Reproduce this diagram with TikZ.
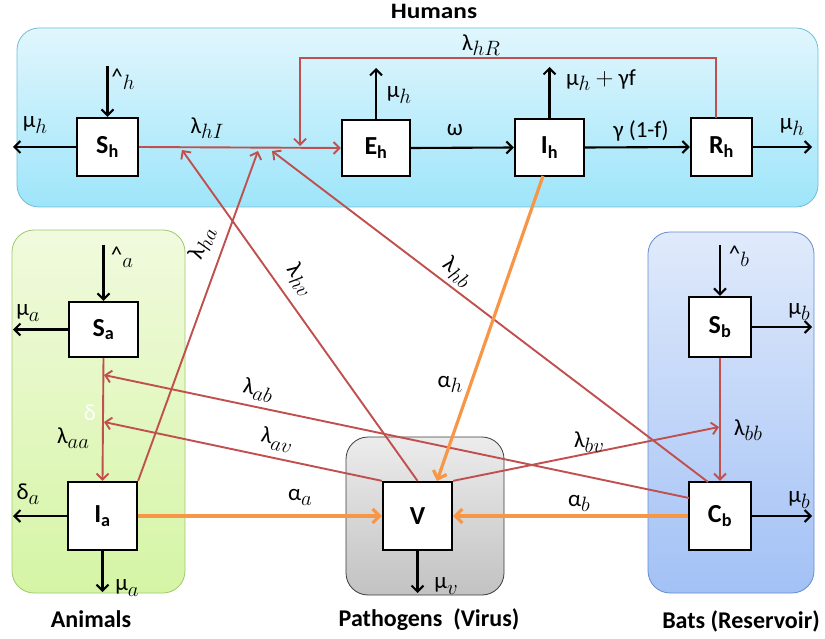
\documentclass[tikz,border=0pt]{standalone}
\usepackage{fontspec}
\setmainfont{Carlito}
\usetikzlibrary{arrows.meta}
\definecolor{redl}{HTML}{C0504D}
\definecolor{orl}{HTML}{F79646}
\definecolor{hTop}{RGB}{225,246,253}
\definecolor{hBot}{RGB}{158,229,250}
\definecolor{hBrd}{RGB}{110,190,215}
\definecolor{aTop}{RGB}{241,250,222}
\definecolor{aBot}{RGB}{213,245,165}
\definecolor{aBrd}{RGB}{160,200,110}
\definecolor{bTop}{RGB}{224,234,251}
\definecolor{bBot}{RGB}{162,193,245}
\definecolor{bBrd}{RGB}{100,140,210}
\definecolor{vTop}{RGB}{236,236,236}
\definecolor{vBot}{RGB}{194,194,194}
\definecolor{vBrd}{RGB}{60,60,60}
\newcommand\sbb[1]{\raisebox{-0.22em}{\fontsize{20}{20}\selectfont$#1$}}
\begin{document}
\begin{tikzpicture}[x=1pt,y=-1pt,
  comp/.style={draw=black, line width=2.3pt, fill=white, inner sep=0pt,
    font=\bfseries\fontsize{26}{26}\selectfont},
  blk/.style={draw=black, line width=2.1pt, -{Straight Barb[length=6pt,width=12pt,line width=2.1pt]}},
  rline/.style={draw=redl, line width=1.9pt},
  rarr/.style={rline, -{Straight Barb[length=6pt,width=12pt,line width=1.9pt]}},
  oarr/.style={draw=orl, line width=3.2pt, -{Straight Barb[length=7pt,width=14pt,line width=3.2pt]}},
  lbl/.style={font=\fontsize{23}{23}\selectfont, inner sep=0pt},
  ttl/.style={font=\bfseries\fontsize{24}{24}\selectfont, inner sep=0pt},
  panel/.style={line width=0.8pt, rounded corners=22pt}
]
\useasboundingbox (0,0) rectangle (825,639);

% panels
\shade[panel, top color=hTop, bottom color=hBot, draw=hBrd] (17,28) rectangle (818,207);
\shade[panel, top color=aTop, bottom color=aBot, draw=aBrd] (12,230) rectangle (185,593);
\shade[panel, top color=bTop, bottom color=bBot, draw=bBrd] (648,232) rectangle (814,593);
\shade[panel, top color=vTop, bottom color=vBot, draw=vBrd] (346,437) rectangle (504,595);

% compartments
\node[comp, minimum width=61pt, minimum height=58pt] (Sh) at (107.5,147) {S\textsubscript{h}};
\node[comp, minimum width=68pt, minimum height=56pt] (Eh) at (376,148) {E\textsubscript{h}};
\node[comp, minimum width=69pt, minimum height=57pt] (Ih) at (549.5,147.5) {I\textsubscript{h}};
\node[comp, minimum width=61pt, minimum height=58pt] (Rh) at (721.5,147) {R\textsubscript{h}};
\node[comp, minimum width=69pt, minimum height=55pt] (Sa) at (103.5,329.5) {S\textsubscript{a}};
\node[comp, minimum width=69pt, minimum height=68pt] (Ia) at (102.5,516) {I\textsubscript{a}};
\node[comp, minimum width=69pt, minimum height=68pt] (V) at (417.5,516) {V};
\node[comp, minimum width=62pt, minimum height=60pt] (Sb) at (720,327) {S\textsubscript{b}};
\node[comp, minimum width=62pt, minimum height=68pt] (Cb) at (720,516) {C\textsubscript{b}};

% free ends
\coordinate (shL) at (13,147);
\coordinate (lamH) at (107.5,66);
\coordinate (ehU) at (376,68);
\coordinate (ihU) at (549.5,67);
\coordinate (rhR) at (812,147);
\coordinate (rTop) at (716,118);
\coordinate (loopA) at (716,58);
\coordinate (loopB) at (300,58);
\coordinate (loopEnd) at (300,146);
\coordinate (hIn1) at (182,150);
\coordinate (hIn2) at (258,151);
\coordinate (hIn3) at (272,151);
\coordinate (ihB) at (543,176);
\coordinate (vTopA) at (437,481);
\coordinate (cbT) at (708,482);
\coordinate (cbL) at (689,498);
\coordinate (lamA) at (103.5,245);
\coordinate (saL) at (13,329.5);
\coordinate (iaL) at (13,516);
\coordinate (iaD) at (102.5,592);
\coordinate (aIn1) at (104,375);
\coordinate (aIn2) at (104,422);
\coordinate (vD) at (417.5,593);
\coordinate (lamB) at (720,245);
\coordinate (sbR) at (812,327);
\coordinate (cbR) at (812,516);
\coordinate (bIn) at (719,427);

% human flows
\draw[blk] (Sh.west) -- (shL);
\draw[blk] (lamH) -- (Sh.north);
\draw[rarr] (Sh.east) -- (Eh.west);
\draw[blk] (Eh.north) -- (ehU);
\draw[blk] (Eh.east) -- (Ih.west);
\draw[blk] (Ih.north) -- (ihU);
\draw[blk] (Ih.east) -- (Rh.west);
\draw[blk] (Rh.east) -- (rhR);
\draw[rarr] (rTop) -- (loopA) -- (loopB) -- (loopEnd);

% animal flows
\draw[blk] (lamA) -- (Sa.north);
\draw[blk] (Sa.west) -- (saL);
\draw[rarr] (Sa.south) -- (Ia.north);
\draw[blk] (Ia.west) -- (iaL);
\draw[blk] (Ia.south) -- (iaD);

% bat flows
\draw[blk] (lamB) -- (Sb.north);
\draw[blk] (Sb.east) -- (sbR);
\draw[rarr] (Sb.south) -- (Cb.north);
\draw[blk] (Cb.east) -- (cbR);

% virus
\draw[blk] (V.south) -- (vD);

% cross infections
\draw[rarr] (V.north) -- (hIn1);
\draw[rarr] (Ia.north east) -- (hIn2);
\draw[rarr] (cbT) -- (hIn3);
\draw[rarr] (cbL) -- (aIn1);
\draw[rarr] (V.north west) -- (aIn2);
\draw[rarr] (V.north east) -- (bIn);

% shedding
\draw[oarr] (ihB) -- (vTopA);
\draw[oarr] (Ia.east) -- (V.west);
\draw[oarr] (Cb.west) -- (V.east);

% labels
\node[ttl, font=\bfseries\fontsize{22}{22}\selectfont, xscale=1.15] (tH) at (434,11) {Humans};
\node[ttl] (tA) at (91,619) {Animals};
\node[ttl] (tV) at (429,620) {Pathogens\ \ (Virus)};
\node[ttl] (tB) at (741,621) {Bats (Reservoir)};

\node[lbl] (l1) at (35,125) {μ\sbb{h}};
\node[lbl] (l2) at (123,79) {\textasciicircum\sbb{h}};
\node[lbl] (l3) at (207,128) {λ\sbb{hI}};
\node[lbl] (l4) at (399,95) {μ\sbb{h}};
\node[lbl] (l5) at (455,130) {ω};
\node[lbl] (l6) at (601,80) {μ\sbb{h} $+$ γf};
\node[lbl] (l7) at (641,131) {γ (1-f)};
\node[lbl] (l8) at (792,127) {μ\sbb{h}};
\node[lbl] (l9) at (481,45) {λ\sbb{hR}};

\node[lbl] (la1) at (122,257) {\textasciicircum\sbb{a}};
\node[lbl] (la2) at (28,313) {μ\sbb{a}};
\node[lbl] (la3) at (73,438) {λ\sbb{aa}};
\node[lbl, text=white] (la4) at (90,413) {δ};
\node[lbl] (la5) at (28,494) {δ\sbb{a}};
\node[lbl] (la6) at (127,588) {μ\sbb{a}};
\node[lbl] (la7) at (300,497) {α\sbb{a}};

\node[lbl, rotate=69] (x1) at (202,243) {λ\sbb{ha}};
\node[lbl, rotate=-55] (x2) at (300,280) {λ\sbb{hv}};
\node[lbl, rotate=-38] (x3) at (457,272) {λ\sbb{hb}};
\node[lbl, rotate=-12] (x4) at (258,390) {λ\sbb{ab}};
\node[lbl, rotate=-12] (x5) at (277,440) {λ\sbb{av}};
\node[lbl] (x6) at (450,384) {α\sbb{h}};
\node[lbl] (x7) at (589,442) {λ\sbb{bv}};
\node[lbl] (x8) at (579,503) {α\sbb{b}};
\node[lbl] (x9) at (446,586) {μ\sbb{v}};

\node[lbl] (lb1) at (739,256) {\textasciicircum\sbb{b}};
\node[lbl] (lb2) at (799,312) {μ\sbb{b}};
\node[lbl] (lb3) at (748,430) {λ\sbb{bb}};
\node[lbl] (lb4) at (799,500) {μ\sbb{b}};
\end{tikzpicture}
\end{document}
